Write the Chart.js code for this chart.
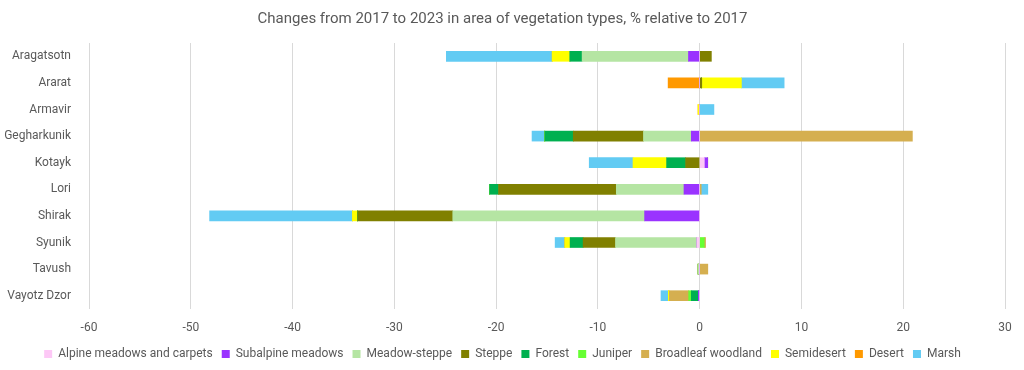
<!DOCTYPE html>
<html>
<head>
<meta charset="utf-8">
<script src="https://cdn.jsdelivr.net/npm/chart.js@4"></script>
<style>
  html, body { margin: 0; padding: 0; background: #fff; }
  #wrap { width: 1024px; height: 370px; }
</style>
</head>
<body>
<div id="wrap"><canvas id="vegChart" width="1024" height="370"></canvas></div>
<script>
/* regions (y categories) */
const regions = ['Aragatsotn', 'Ararat', 'Armavir', 'Gegharkunik', 'Kotayk', 'Lori', 'Shirak', 'Syunik', 'Tavush', 'Vayotz Dzor'];

/* % change per vegetation type, same order as regions */
const alpine       = [0, 0, 0, 0, 0.46, 0, 0, -0.27, 0, 0];
const subalpine    = [-1.1, 0, 0, -0.82, 0.33, -1.54, -5.41, 0, 0, -0.13];
const meadowSteppe = [-10.45, 0, 0, -4.7, 0, -6.65, -18.85, -8.0, -0.15, 0];
const steppe       = [1.15, 0.2, 0, -6.9, -1.38, -11.57, -9.34, -3.18, 0, 0];
const forest       = [-1.2, 0, 0, -2.8, -1.87, -0.88, 0, -1.28, 0, -0.69];
const juniper      = [0, 0, 0, 0, 0, 0, 0, 0.45, 0, -0.26];
const broadleaf    = [0, 0, 0, 20.9, 0, 0.15, 0, 0.13, 0.8, -1.9];
const semidesert   = [-1.74, 3.9, -0.16, 0, -3.3, 0, -0.52, -0.52, 0, -0.1];
const desert       = [0, -3.1, 0, 0, 0, 0, 0, 0, 0, 0];
const marsh        = [-10.4, 4.2, 1.4, -1.25, -4.3, 0.65, -14.03, -0.95, 0, -0.72];

const xTicks = [-60, -50, -40, -30, -20, -10, 0, 10, 20, 30];

const series = [
  ['Alpine meadows and carpets', alpine, '#fdc8f6'],
  ['Subalpine meadows', subalpine, '#9a33ff'],
  ['Meadow-steppe', meadowSteppe, '#b5e5a3'],
  ['Steppe', steppe, '#808000'],
  ['Forest', forest, '#00b050'],
  ['Juniper', juniper, '#66ff33'],
  ['Broadleaf woodland', broadleaf, '#d5af50'],
  ['Semidesert', semidesert, '#ffff00'],
  ['Desert', desert, '#ff9900'],
  ['Marsh', marsh, '#62cbf3'],
];

const txt = '#595959';
const font = 'Roboto, "Liberation Sans", sans-serif';

new Chart(document.getElementById('vegChart'), {
  type: 'bar',
  data: {
    labels: regions,
    datasets: series.map(([label, data, color]) => ({
      label,
      data,
      backgroundColor: color,
      borderWidth: 0,
      barThickness: 10,
    })),
  },
  options: {
    indexAxis: 'y',
    responsive: false,
    animation: false,
    layout: { padding: { left: 0, right: 19, top: 0, bottom: 0 } },
    plugins: {
      title: {
        display: true,
        text: 'Changes from 2017 to 2023 in area of vegetation types, % relative to 2017',
        color: txt,
        font: { family: font, size: 15, weight: 'normal' },
        padding: { top: 10, bottom: 15 },
      },
      legend: {
        position: 'bottom',
        labels: {
          color: txt,
          font: { family: font, size: 12 },
          boxWidth: 8,
          boxHeight: 8,
          padding: 9,
        },
      },
      tooltip: { enabled: false },
    },
    scales: {
      x: {
        stacked: true,
        min: -60,
        max: 30,
        afterBuildTicks: s => { s.ticks = xTicks.map(v => ({ value: v })); },
        afterFit: s => { s.height = 30; },
        grid: { color: '#d9d9d9', drawTicks: false },
        border: { display: false },
        ticks: { color: txt, font: { family: font, size: 12 }, padding: 12 },
      },
      y: {
        stacked: true,
        afterFit: s => { s.width = 89; },
        grid: { display: false },
        border: { display: false },
        ticks: { color: txt, font: { family: font, size: 12 }, padding: 10 },
      },
    },
  },
});
</script>
</body>
</html>
